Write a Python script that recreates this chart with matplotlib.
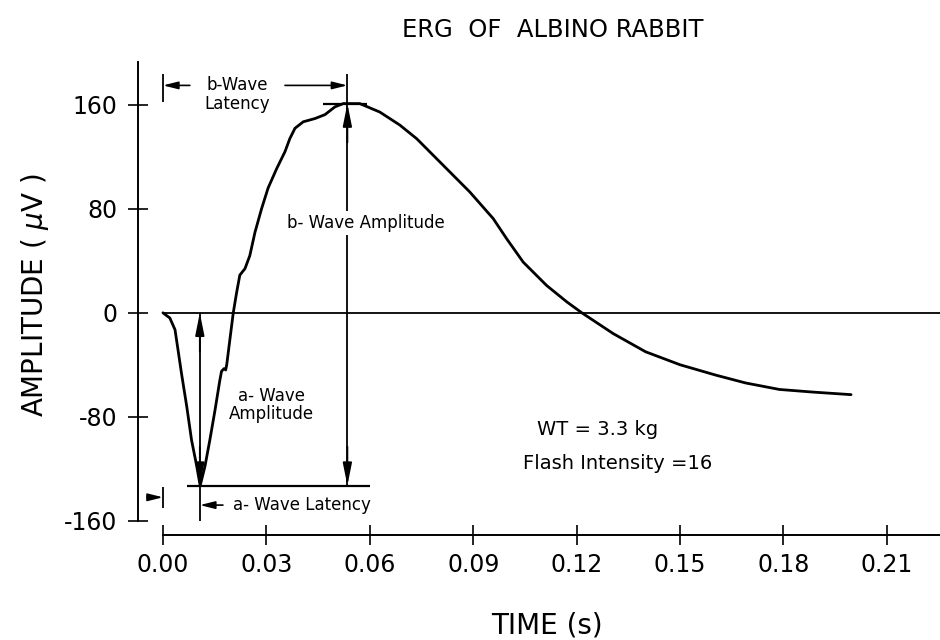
import matplotlib
matplotlib.use("Agg")
import matplotlib.pyplot as plt

# ERG trace (time in s, amplitude in microvolts)
time = [0.0, 0.0020, 0.0035, 0.0044, 0.0054, 0.0069, 0.0083, 0.0098, 0.0108,
        0.0122, 0.0136, 0.0151, 0.0165, 0.0170, 0.0177, 0.0182, 0.0185, 0.0194,
        0.0204, 0.0214, 0.0223, 0.0238, 0.0252, 0.0267, 0.0286, 0.0305, 0.0330,
        0.0354, 0.0368, 0.0383, 0.0407, 0.0441, 0.0470, 0.0499, 0.0523, 0.0547,
        0.0571, 0.0629, 0.0687, 0.0736, 0.0813, 0.0890, 0.0958, 0.0997, 0.1045,
        0.1113, 0.1171, 0.1215, 0.1306, 0.1400, 0.1500, 0.1604, 0.1690, 0.1788,
        0.1884, 0.1996]
amp = [0, -4, -13, -29, -47, -72, -98, -118, -133,
       -118, -98, -75, -52, -45, -43, -44, -40, -21,
       0, 16, 29, 34, 44, 62, 80, 96, 111,
       124, 134, 142, 147, 149.5, 152.5, 158.5, 161, 161,
       161, 154.5, 144.5, 134, 113.5, 93, 72.5, 57, 39,
       21, 8.5, 0, -16, -30, -40, -48, -54, -59,
       -61, -63]

t_a, amp_a = 0.0107, -133   # a-wave trough
t_b, amp_b = 0.0535, 161    # b-wave peak
x_end = 0.2254

xticks = [0.0, 0.03, 0.06, 0.09, 0.12, 0.15, 0.18, 0.21]
xtick_labels = ['0.00', '0.03', '0.06', '0.09', '0.12', '0.15', '0.18', '0.21']
yticks = [-160, -80, 0, 80, 160]

plt.rcParams['font.family'] = ['DejaVu Sans']
plt.rcParams['axes.unicode_minus'] = False

fig = plt.figure(figsize=(9.4, 6.4), dpi=100)
ax = fig.add_axes([0.1473, 0.1641, 0.8527, 0.739])

ax.plot(time, amp, color='k', lw=2.0, solid_capstyle='round', solid_joinstyle='round')
ax.hlines(0, 0, x_end, color='k', lw=1.3)

ax.set_xlim(-0.0071, x_end)
ax.set_ylim(-171, 193)
ax.spines['top'].set_visible(False)
ax.spines['right'].set_visible(False)
ax.spines['left'].set_bounds(-160, 193)
ax.spines['bottom'].set_bounds(0, x_end)
ax.spines['left'].set_linewidth(1.4)
ax.spines['bottom'].set_linewidth(1.4)

ax.set_xticks(xticks)
ax.set_xticklabels(xtick_labels)
ax.set_yticks(yticks)
ax.tick_params(axis='both', direction='inout', length=14, width=1.2, labelsize=17)
ax.tick_params(axis='y', pad=8)
ax.tick_params(axis='x', pad=6)

arrow = dict(arrowstyle='-|>,head_length=0.9,head_width=0.18', color='k',
             lw=1.3, shrinkA=0, shrinkB=0, mutation_scale=15)
small_arrow = dict(arrowstyle='-|>,head_length=0.6,head_width=0.15', color='k',
                   lw=1.2, shrinkA=0, shrinkB=0, mutation_scale=15)
lw = 1.3

# b-wave amplitude
ax.vlines(t_b, amp_a, 184, color='k', lw=lw)
ax.annotate('', xy=(t_b, amp_b), xytext=(t_b, amp_b - 30), arrowprops=arrow)
ax.annotate('', xy=(t_b, amp_a), xytext=(t_b, amp_a + 30), arrowprops=arrow)
ax.hlines(amp_b, 0.0464, 0.0592, color='k', lw=1.6)
ax.text(0.059, 69, 'b- Wave Amplitude', ha='center', va='center', fontsize=12,
        bbox=dict(facecolor='white', edgecolor='none', pad=2))

# b-wave latency
ax.vlines(0, 162, 184, color='k', lw=lw)
ax.annotate('', xy=(0, 175), xytext=(0.0078, 175), arrowprops=small_arrow)
ax.annotate('', xy=(t_b, 175), xytext=(0.0354, 175), arrowprops=small_arrow)
ax.text(0.0215, 168, 'b-Wave\nLatency', ha='center', va='center', fontsize=12,
        linespacing=1.1)

# a-wave amplitude
ax.hlines(amp_a, 0.007, 0.060, color='k', lw=1.6)
ax.vlines(t_a, -160, 0, color='k', lw=lw)
ax.annotate('', xy=(t_a, 0), xytext=(t_a, -30), arrowprops=arrow)
ax.annotate('', xy=(t_a, amp_a), xytext=(t_a, amp_a + 30), arrowprops=arrow)
ax.text(0.0315, -71, 'a- Wave\nAmplitude', ha='center', va='center', fontsize=12,
        linespacing=1.0)

# a-wave latency
ax.vlines(0, -150, -134, color='k', lw=lw)
ax.annotate('', xy=(0, -142), xytext=(-0.0046, -142), arrowprops=small_arrow)
ax.annotate('', xy=(t_a, -148), xytext=(0.0174, -148), arrowprops=small_arrow)
ax.text(0.0203, -148, 'a- Wave Latency', ha='left', va='center', fontsize=12)

ax.text(0.1085, -90, 'WT = 3.3 kg', ha='left', va='center', fontsize=14)
ax.text(0.1044, -116, 'Flash Intensity =16', ha='left', va='center', fontsize=14)

fig.text(0.588, 0.953, 'ERG  OF  ALBINO RABBIT', ha='center', va='center', fontsize=17.5)
fig.text(0.582, 0.023, 'TIME (s)', ha='center', va='center', fontsize=20)
fig.text(0.037, 0.539, 'AMPLITUDE ( $\\mu$V )', ha='center', va='center',
         rotation=90, fontsize=20)

fig.savefig('out.png', dpi=100)
